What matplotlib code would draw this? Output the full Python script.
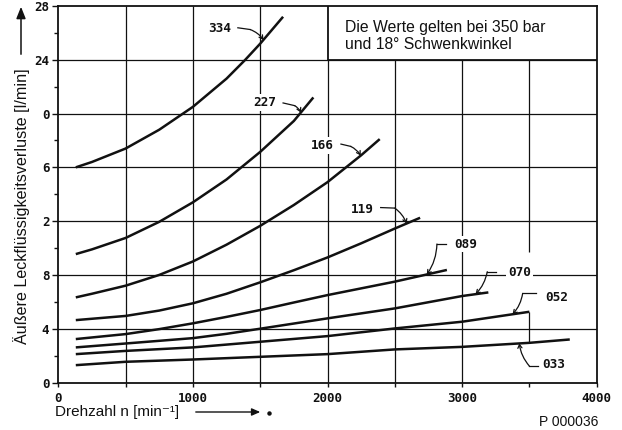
import matplotlib
matplotlib.use("Agg")
import matplotlib.pyplot as plt
from matplotlib.patches import Rectangle, FancyArrowPatch
import numpy as np

# ---------------- data ----------------
n334 = [130, 250, 500, 750, 1000, 1250, 1389, 1500, 1670]
v334 = [16.0, 16.4, 17.4, 18.8, 20.5, 22.6, 24.0, 25.2, 27.2]
n227 = [130, 250, 500, 750, 1000, 1250, 1500, 1750, 1895]
v227 = [9.55, 9.9, 10.75, 11.95, 13.4, 15.1, 17.15, 19.45, 21.2]
n166 = [130, 250, 500, 750, 1000, 1250, 1500, 1750, 2000, 2250, 2388]
v166 = [6.33, 6.6, 7.2, 8.0, 9.0, 10.25, 11.65, 13.2, 14.9, 16.9, 18.1]
n119 = [130, 500, 750, 1000, 1250, 1500, 1750, 2000, 2250, 2500, 2688]
v119 = [4.64, 4.95, 5.35, 5.89, 6.6, 7.45, 8.35, 9.3, 10.35, 11.45, 12.25]
n089 = [130, 500, 750, 1000, 1250, 1500, 1750, 2000, 2250, 2500, 2887]
v089 = [3.23, 3.6, 3.97, 4.4, 4.88, 5.39, 5.95, 6.5, 7.0, 7.5, 8.37]
n070 = [130, 500, 1000, 1250, 1500, 2000, 2500, 3000, 3195]
v070 = [2.61, 2.9, 3.3, 3.62, 4.0, 4.77, 5.51, 6.43, 6.7]
n052 = [130, 500, 1000, 1500, 2000, 2500, 3000, 3500]
v052 = [2.11, 2.35, 2.61, 3.03, 3.45, 4.02, 4.52, 5.26]
n033 = [130, 500, 1000, 1500, 2000, 2500, 3000, 3500, 3800]
v033 = [1.29, 1.54, 1.71, 1.91, 2.11, 2.46, 2.65, 2.95, 3.2]

series_names = ["334", "227", "166", "119", "089", "070", "052", "033"]
series_n = [n334, n227, n166, n119, n089, n070, n052, n033]
series_v = [v334, v227, v166, v119, v089, v070, v052, v033]

x_ticks = [0, 1000, 2000, 3000, 4000]
x_tick_labels = ["0", "1000", "2000", "3000", "4000"]
y_ticks = [0, 4, 8, 12, 16, 20, 24, 28]
y_tick_labels = ["0", "4", "8", "2", "6", "0", "24", "28"]

# ---------------- figure ----------------
W, H = 622, 430
fig = plt.figure(figsize=(W / 100, H / 100), dpi=100)
fig.patch.set_facecolor("white")
L, R, T, B = 58.3, 596.7, 6.0, 382.5
ax = fig.add_axes([L / W, 1 - B / H, (R - L) / W, (B - T) / H])
ax.set_xlim(0, 4000)
ax.set_ylim(0, 28)
ink = "#111111"

for s in ax.spines.values():
    s.set_color(ink)
    s.set_linewidth(1.3)

# grid
for y in [4, 8, 12, 16, 20, 24]:
    ax.axhline(y, color=ink, lw=0.9, zorder=1)
ax.vlines([500, 1000, 1500, 2000], 0, 28, color=ink, lw=0.9, zorder=1)
ax.vlines([2500, 3000], 0, 24, color=ink, lw=0.9, zorder=1)
ax.vlines([3500, 3500], [9.7, 2.95], [24, 5.26], color=ink, lw=0.9, zorder=1)

# info box
ax.add_patch(Rectangle((2000, 24), 2000, 4, facecolor="white", edgecolor=ink,
                       lw=1.3, zorder=3))
ax.text(2130, 25.75, "Die Werte gelten bei 350 bar\nund 18° Schwenkwinkel",
        family="Liberation Sans", fontsize=11.3, color=ink, va="center",
        ha="left", linespacing=1.2, zorder=4)

# ticks
mono = dict(family="DejaVu Sans Mono", weight="bold")
ax.set_xticks(x_ticks)
ax.set_xticklabels(x_tick_labels, fontsize=9, color=ink, **mono)
ax.set_xticks([500, 1500, 2500, 3500], minor=True)
ax.set_yticks(y_ticks)
ax.set_yticklabels(y_tick_labels, fontsize=9, color=ink, **mono)
ax.set_yticks([2, 6, 10, 14, 18, 22, 26], minor=True)
ax.tick_params(axis="x", which="both", direction="out", length=3, width=1,
               pad=4, color=ink)
ax.tick_params(axis="y", which="major", direction="out", length=4.5, width=1,
               pad=2, color=ink)
ax.tick_params(axis="y", which="minor", direction="out", length=3, width=1,
               color=ink)

# curves
for n, v in zip(series_n, series_v):
    ax.plot(n, v, color=ink, lw=1.8, solid_capstyle="butt",
            solid_joinstyle="round", zorder=5)

# curve labels: (name, text pos, leader start, leader bend, tip n)
labels = [
    ("334", (1202, 26.33), (1334, 26.38), (1426, 26.25), 1524),
    ("227", (1535, 20.81), (1670, 20.79), (1756, 20.59), 1802),
    ("166", (1963, 17.63), (2100, 17.73), (2172, 17.56), 2247),
    ("119", (2262, 12.84), (2395, 13.01), (2500, 12.97), 2587),
    ("089", (3028, 10.30), (2883, 10.30), (2813, 10.30), 2738),
    ("070", (3425, 8.17), (3250, 8.24), (3187, 8.24), 3100),
    ("052", (3702, 6.33), (3550, 6.63), (3450, 6.63), 3375),
    ("033", (3680, 1.36), (3562, 1.22), (3500, 1.22), 3425),
]
lookup = dict(zip(series_names, zip(series_n, series_v)))
for name, tp, p0, p1, tn in labels:
    cn, cv = lookup[name]
    tv = float(np.interp(tn, cn, cv))
    ax.text(tp[0], tp[1], name, fontsize=9.2, color=ink, ha="center",
            va="center", zorder=6,
            bbox=dict(boxstyle="square,pad=0.15", fc="white", ec="none"),
            **mono)
    ax.plot([p0[0], p1[0]], [p0[1], p1[1]], color=ink, lw=0.9, zorder=6)
    ax.annotate("", xy=(tn, tv), xytext=p1,
                arrowprops=dict(arrowstyle="->,head_length=0.25,head_width=0.15",
                                color=ink, lw=0.9,
                                connectionstyle="arc3,rad=-0.15",
                                shrinkA=0, shrinkB=0), zorder=6)

# axis titles (figure coords from pixel positions)
def fx(px):
    return px / W

def fy(py):
    return 1 - py / H

fig.text(fx(22), fy(206), "Äußere Leckflüssigkeitsverluste [l/min]",
         rotation=90, ha="center", va="center", fontsize=11.6,
         family=["Liberation Sans", "DejaVu Sans"], color=ink)
fig.add_artist(FancyArrowPatch(
    (fx(21), fy(57)), (fx(21), fy(4)), transform=fig.transFigure,
    arrowstyle="-|>,head_length=7,head_width=2.8", color=ink, lw=1.1))

fig.text(fx(55), fy(412), "Drehzahl n [min⁻¹]", ha="left", va="center",
         fontsize=11, family=["Liberation Sans", "DejaVu Sans"], color=ink)
fig.add_artist(FancyArrowPatch(
    (fx(193), fy(412)), (fx(263), fy(412)), transform=fig.transFigure,
    arrowstyle="-|>,head_length=5,head_width=2.2", color=ink, lw=1.0))
fig.add_artist(plt.Line2D([fx(269)], [fy(413)], marker="o", ms=2.2,
                          color=ink, transform=fig.transFigure))

fig.text(fx(598), fy(422), "P 000036", ha="right", va="center", fontsize=10,
         family="Liberation Sans", color=ink)

fig.savefig("out.png", dpi=100, facecolor="white")
